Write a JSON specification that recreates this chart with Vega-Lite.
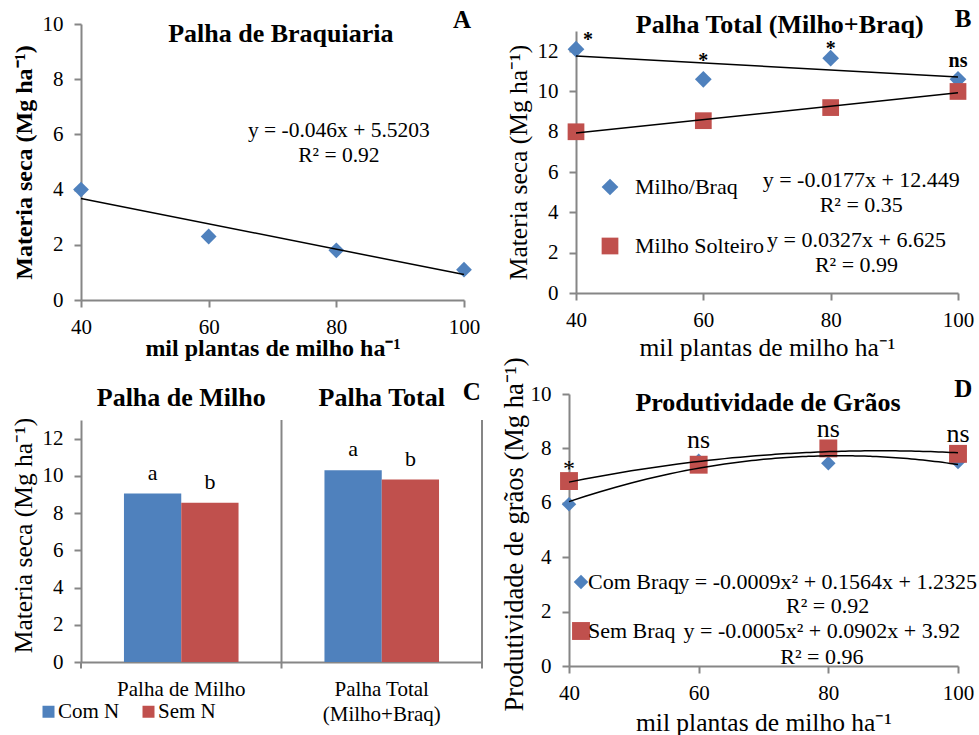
{
  "$schema": "https://vega.github.io/schema/vega-lite/v6.json",
  "padding": {"left": 10, "top": 7, "right": 0, "bottom": 0},
  "background": "white",
  "config": {
    "view": {"stroke": null},
    "font": "Liberation Serif",
    "axis": {
      "domainColor": "#868686", "tickColor": "#868686", "domainWidth": 2, "tickWidth": 2,
      "tickSize": 7, "grid": false, "labelFont": "Liberation Serif", "titleFont": "Liberation Serif",
      "labelFontSize": 21, "titleFontSize": 25.5, "labelColor": "#000", "titleColor": "#000",
      "titleFontWeight": "normal", "labelPadding": 9, "labelFlush": false, "labelOverlap": false
    },
    "axisY": {"labelPadding": 11, "titlePadding": 6},
    "axisX": {"titlePadding": -6},
    "legend": {"labelFont": "Liberation Serif", "labelColor": "#000", "padding": 0, "labelFontSize": 22},
    "text": {"font": "Liberation Serif", "color": "#000"}
  },
  "columns": 2,
  "align": "all",
  "bounds": "flush",
  "spacing": {"row": 94, "column": 87},
  "resolve": {
    "scale": {"x": "independent", "y": "independent", "color": "independent", "shape": "independent", "size": "independent", "xOffset": "independent"},
    "legend": {"color": "independent", "shape": "independent", "size": "independent"}
  },
  "concat": [
    {
      "width": 383, "height": 276,
      "data": {"values": [
        {"plantas": 40, "ms": 4.0}, {"plantas": 60, "ms": 2.3},
        {"plantas": 80, "ms": 1.8}, {"plantas": 100, "ms": 1.1}
      ]},
      "encoding": {
        "x": {"field": "plantas", "type": "quantitative", "scale": {"domain": [40, 100]},
              "axis": {"values": [40, 60, 80, 100], "title": "mil plantas de milho ha⁻¹", "titleFontWeight": "bold", "titleFontSize": 24, "titlePadding": -1}},
        "y": {"field": "ms", "type": "quantitative", "scale": {"domain": [0, 10]},
              "axis": {"values": [0, 2, 4, 6, 8, 10], "title": "Materia seca (Mg ha⁻¹)", "titleFontWeight": "bold", "titleFontSize": 24}}
      },
      "layer": [
        {"mark": {"type": "point", "shape": "diamond", "filled": true, "size": 250, "color": "#4F81BD", "opacity": 1}},
        {"transform": [{"regression": "ms", "on": "plantas", "extent": [40, 100]}],
         "mark": {"type": "line", "color": "#000", "strokeWidth": 1.5}},
        {"transform": [{"filter": "datum.plantas == 40"}],
         "mark": {"type": "text", "fontSize": 26, "fontWeight": "bold", "align": "center", "baseline": "alphabetic"},
         "encoding": {"x": {"datum": 71.3}, "y": {"datum": 9.35}, "text": {"value": "Palha de Braquiaria"}}},
        {"transform": [{"filter": "datum.plantas == 40"}],
         "mark": {"type": "text", "fontSize": 25, "fontWeight": "bold", "align": "center", "baseline": "alphabetic"},
         "encoding": {"x": {"datum": 99.7}, "y": {"datum": 9.86}, "text": {"value": "A"}}},
        {"transform": [{"filter": "datum.plantas == 40"}],
         "mark": {"type": "text", "fontSize": 21.5, "align": "center", "baseline": "alphabetic", "lineHeight": 25},
         "encoding": {"x": {"datum": 80.4}, "y": {"datum": 5.9}, "text": {"value": ["y = -0.046x + 5.5203", "R² = 0.92"]}}}
      ]
    },
    {
      "width": 389, "height": 269,
      "data": {"values": [
        {"plantas": 40, "ms": 12.1, "serie": "Milho/Braq"},
        {"plantas": 60, "ms": 10.6, "serie": "Milho/Braq"},
        {"plantas": 80, "ms": 11.65, "serie": "Milho/Braq"},
        {"plantas": 100, "ms": 10.6, "serie": "Milho/Braq"},
        {"plantas": 40, "ms": 8.0, "serie": "Milho Solteiro"},
        {"plantas": 60, "ms": 8.55, "serie": "Milho Solteiro"},
        {"plantas": 80, "ms": 9.2, "serie": "Milho Solteiro"},
        {"plantas": 100, "ms": 10.0, "serie": "Milho Solteiro"}
      ]},
      "encoding": {
        "x": {"field": "plantas", "type": "quantitative", "scale": {"domain": [40, 100], "range": [7, 389]},
              "axis": {"values": [40, 60, 80, 100], "title": "mil plantas de milho ha⁻¹", "titlePadding": 5}},
        "y": {"field": "ms", "type": "quantitative", "scale": {"domain": [0, 13], "range": [269, 7]},
              "axis": {"values": [0, 2, 4, 6, 8, 10, 12], "title": "Materia seca (Mg ha⁻¹)", "offset": -7}}
      },
      "layer": [
        {"mark": {"type": "point", "filled": true, "size": 280, "opacity": 1},
         "encoding": {
           "color": {"field": "serie", "type": "nominal",
                     "scale": {"domain": ["Milho/Braq", "Milho Solteiro"], "range": ["#4F81BD", "#C0504D"]},
                     "legend": {"title": null, "orient": "none", "legendX": 30, "legendY": 152, "direction": "vertical", "rowPadding": 37, "labelOffset": 14, "symbolSize": 280, "labelFontSize": 22, "symbolStrokeWidth": 0}},
           "shape": {"field": "serie", "type": "nominal",
                     "scale": {"domain": ["Milho/Braq", "Milho Solteiro"], "range": ["diamond", "square"]},
                     "legend": {"title": null, "orient": "none", "legendX": 30, "legendY": 152, "direction": "vertical", "rowPadding": 37, "labelOffset": 14, "symbolSize": 280, "labelFontSize": 22, "symbolStrokeWidth": 0}}
         }},
        {"transform": [{"regression": "ms", "on": "plantas", "groupby": ["serie"], "extent": [40, 100]}],
         "mark": {"type": "line", "color": "#000", "strokeWidth": 1.5},
         "encoding": {"detail": {"field": "serie", "type": "nominal"}}},
        {"transform": [{"filter": "datum.plantas == 40 && datum.serie == 'Milho/Braq'"}],
         "mark": {"type": "text", "fontSize": 26, "fontWeight": "bold", "align": "center", "baseline": "alphabetic"},
         "encoding": {"x": {"datum": 72.0}, "y": {"datum": 12.92}, "text": {"value": "Palha Total (Milho+Braq)"}}},
        {"transform": [{"filter": "datum.plantas == 40 && datum.serie == 'Milho/Braq'"}],
         "mark": {"type": "text", "fontSize": 25, "fontWeight": "bold", "align": "center", "baseline": "alphabetic"},
         "encoding": {"x": {"datum": 100.8}, "y": {"datum": 13.19}, "text": {"value": "B"}}},
        {"transform": [{"filter": "datum.plantas == 40 && datum.serie == 'Milho/Braq'"}],
         "mark": {"type": "text", "fontSize": 20, "fontWeight": "bold", "align": "center", "baseline": "alphabetic"},
         "encoding": {"x": {"datum": 41.9}, "y": {"datum": 12.25}, "text": {"value": "*"}}},
        {"transform": [{"filter": "datum.plantas == 40 && datum.serie == 'Milho/Braq'"}],
         "mark": {"type": "text", "fontSize": 20, "fontWeight": "bold", "align": "center", "baseline": "alphabetic"},
         "encoding": {"x": {"datum": 60}, "y": {"datum": 11.2}, "text": {"value": "*"}}},
        {"transform": [{"filter": "datum.plantas == 40 && datum.serie == 'Milho/Braq'"}],
         "mark": {"type": "text", "fontSize": 20, "fontWeight": "bold", "align": "center", "baseline": "alphabetic"},
         "encoding": {"x": {"datum": 80}, "y": {"datum": 11.8}, "text": {"value": "*"}}},
        {"transform": [{"filter": "datum.plantas == 40 && datum.serie == 'Milho/Braq'"}],
         "mark": {"type": "text", "fontSize": 20, "fontWeight": "bold", "align": "center", "baseline": "alphabetic"},
         "encoding": {"x": {"datum": 100}, "y": {"datum": 11.2}, "text": {"value": "ns"}}},
        {"transform": [{"filter": "datum.plantas == 40 && datum.serie == 'Milho/Braq'"}],
         "mark": {"type": "text", "fontSize": 22, "align": "center", "baseline": "alphabetic", "lineHeight": 25},
         "encoding": {"x": {"datum": 84.8}, "y": {"datum": 5.26}, "text": {"value": ["y = -0.0177x + 12.449", "R² = 0.35"]}}},
        {"transform": [{"filter": "datum.plantas == 40 && datum.serie == 'Milho/Braq'"}],
         "mark": {"type": "text", "fontSize": 22, "align": "center", "baseline": "alphabetic", "lineHeight": 25},
         "encoding": {"x": {"datum": 84.06}, "y": {"datum": 2.28}, "text": {"value": ["y = 0.0327x + 6.625", "R² = 0.99"]}}}
      ]
    },
    {
      "width": 401, "height": 268,
      "data": {"values": [
        {"grupo": "Palha de Milho", "n": "Com N", "ms": 9.05, "letra": "a"},
        {"grupo": "Palha de Milho", "n": "Sem N", "ms": 8.55, "letra": "b"},
        {"grupo": "Palha Total (Milho+Braq)", "n": "Com N", "ms": 10.3, "letra": "a"},
        {"grupo": "Palha Total (Milho+Braq)", "n": "Sem N", "ms": 9.8, "letra": "b"}
      ]},
      "encoding": {
        "x": {"field": "grupo", "type": "nominal", "sort": null, "scale": {"paddingInner": 0, "paddingOuter": 0},
              "axis": {"title": null, "labelAngle": 0, "ticks": false, "tickSize": 0, "labelPadding": 16, "labelLineHeight": 25,
                       "labelExpr": "datum.value == 'Palha Total (Milho+Braq)' ? ['Palha Total', '(Milho+Braq)'] : datum.label"}},
        "y": {"field": "ms", "type": "quantitative", "scale": {"domain": [0, 13], "range": [268, 26]},
              "axis": {"values": [0, 2, 4, 6, 8, 10, 12], "title": "Materia seca (Mg ha⁻¹)", "titleY": 141}}
      },
      "layer": [
        {"mark": {"type": "bar"},
         "encoding": {
           "xOffset": {"field": "n", "type": "nominal", "scale": {"paddingOuter": 0.75, "paddingInner": 0}},
           "color": {"field": "n", "type": "nominal", "scale": {"domain": ["Com N", "Sem N"], "range": ["#4F81BD", "#C0504D"]},
                     "legend": {"title": null, "orient": "none", "legendX": -43, "legendY": 307, "direction": "horizontal", "symbolType": "square", "symbolSize": 144, "labelFontSize": 21, "columnPadding": 18, "labelOffset": -1, "symbolStrokeWidth": 0}}
         }},
        {"mark": {"type": "text", "fontSize": 22, "align": "center", "baseline": "alphabetic", "dy": -14},
         "encoding": {
           "xOffset": {"field": "n", "type": "nominal", "scale": {"paddingOuter": 0.75, "paddingInner": 0}},
           "text": {"field": "letra", "type": "nominal"}
         }},
        {"transform": [{"filter": "datum.grupo == 'Palha de Milho' && datum.n == 'Com N'"}],
         "mark": {"type": "rule", "color": "#868686", "strokeWidth": 2},
         "encoding": {"x": {"datum": "Palha Total (Milho+Braq)", "bandPosition": 0}, "y": {"datum": -0.35}, "y2": {"datum": 13}}},
        {"transform": [{"filter": "datum.grupo == 'Palha de Milho' && datum.n == 'Com N'"}],
         "mark": {"type": "rule", "color": "#868686", "strokeWidth": 2},
         "encoding": {"x": {"datum": "Palha Total (Milho+Braq)", "bandPosition": 1}, "y": {"datum": -0.35}, "y2": {"datum": 13}}},
        {"transform": [{"filter": "datum.grupo == 'Palha de Milho' && datum.n == 'Com N'"}],
         "mark": {"type": "rule", "color": "#868686", "strokeWidth": 2},
         "encoding": {"x": {"datum": "Palha de Milho", "bandPosition": 0}, "y": {"datum": -0.35}, "y2": {"datum": 0}}},
        {"transform": [{"filter": "datum.grupo == 'Palha de Milho' && datum.n == 'Com N'"}],
         "mark": {"type": "text", "fontSize": 26, "fontWeight": "bold", "align": "center", "baseline": "alphabetic"},
         "encoding": {"x": {"datum": "Palha de Milho"}, "y": {"datum": 13.77}, "text": {"value": "Palha de Milho"}}},
        {"transform": [{"filter": "datum.grupo == 'Palha de Milho' && datum.n == 'Com N'"}],
         "mark": {"type": "text", "fontSize": 26, "fontWeight": "bold", "align": "center", "baseline": "alphabetic"},
         "encoding": {"x": {"datum": "Palha Total (Milho+Braq)"}, "y": {"datum": 13.77}, "text": {"value": "Palha Total"}}},
        {"transform": [{"filter": "datum.grupo == 'Palha de Milho' && datum.n == 'Com N'"}],
         "mark": {"type": "text", "fontSize": 25, "fontWeight": "bold", "align": "center", "baseline": "alphabetic", "dx": 90},
         "encoding": {"x": {"datum": "Palha Total (Milho+Braq)"}, "y": {"datum": 14.09}, "text": {"value": "C"}}}
      ]
    },
    {
      "width": 389, "height": 272,
      "data": {"values": [
        {"plantas": 40, "prod": 5.95, "serie": "Com Braq"},
        {"plantas": 60, "prod": 7.55, "serie": "Com Braq"},
        {"plantas": 80, "prod": 7.45, "serie": "Com Braq"},
        {"plantas": 100, "prod": 7.5, "serie": "Com Braq"},
        {"plantas": 40, "prod": 6.8, "serie": "Sem Braq"},
        {"plantas": 60, "prod": 7.4, "serie": "Sem Braq"},
        {"plantas": 80, "prod": 8.0, "serie": "Sem Braq"},
        {"plantas": 100, "prod": 7.8, "serie": "Sem Braq"}
      ]},
      "encoding": {
        "x": {"field": "plantas", "type": "quantitative", "scale": {"domain": [40, 100]},
              "axis": {"values": [40, 60, 80, 100], "title": "mil plantas de milho ha⁻¹", "titlePadding": 7}},
        "y": {"field": "prod", "type": "quantitative", "scale": {"domain": [0, 10]},
              "axis": {"values": [0, 2, 4, 6, 8, 10], "title": "Produtividade de grãos (Mg ha⁻¹)", "titleY": 140, "titleFontSize": 26.5, "titlePadding": 2}}
      },
      "layer": [
        {"mark": {"type": "point", "filled": true, "opacity": 1},
         "encoding": {
           "color": {"field": "serie", "type": "nominal",
                     "scale": {"domain": ["Com Braq", "Sem Braq"], "range": ["#4F81BD", "#C0504D"]},
                     "legend": {"title": null, "orient": "none", "legendX": 1, "legendY": 177, "direction": "vertical", "rowPadding": 27, "labelOffset": -4, "symbolSize": 250, "labelFontSize": 22, "symbolStrokeWidth": 0}},
           "shape": {"field": "serie", "type": "nominal",
                     "scale": {"domain": ["Com Braq", "Sem Braq"], "range": ["diamond", "square"]},
                     "legend": {"title": null, "orient": "none", "legendX": 1, "legendY": 177, "direction": "vertical", "rowPadding": 27, "labelOffset": -4, "symbolSize": 250, "labelFontSize": 22, "symbolStrokeWidth": 0}},
           "size": {"field": "serie", "type": "nominal", "scale": {"domain": ["Com Braq", "Sem Braq"], "range": [210, 320]}, "legend": null}
         }},
        {"transform": [{"regression": "prod", "on": "plantas", "groupby": ["serie"], "method": "poly", "order": 2, "extent": [40, 100]}],
         "mark": {"type": "line", "color": "#000", "strokeWidth": 1.5},
         "encoding": {"detail": {"field": "serie", "type": "nominal"}}},
        {"transform": [{"filter": "datum.plantas == 40 && datum.serie == 'Com Braq'"}],
         "mark": {"type": "text", "fontSize": 26, "fontWeight": "bold", "align": "center", "baseline": "alphabetic"},
         "encoding": {"x": {"datum": 70.7}, "y": {"datum": 9.375}, "text": {"value": "Produtividade de Grãos"}}},
        {"transform": [{"filter": "datum.plantas == 40 && datum.serie == 'Com Braq'"}],
         "mark": {"type": "text", "fontSize": 25, "fontWeight": "bold", "align": "center", "baseline": "alphabetic"},
         "encoding": {"x": {"datum": 100.8}, "y": {"datum": 9.89}, "text": {"value": "D"}}},
        {"transform": [{"filter": "datum.plantas == 40 && datum.serie == 'Com Braq'"}],
         "mark": {"type": "text", "fontSize": 24, "align": "center", "baseline": "alphabetic"},
         "encoding": {"x": {"datum": 40}, "y": {"datum": 7.0}, "text": {"value": "*"}}},
        {"transform": [{"filter": "datum.plantas == 40 && datum.serie == 'Com Braq'"}],
         "mark": {"type": "text", "fontSize": 26, "align": "center", "baseline": "alphabetic"},
         "encoding": {"x": {"datum": 60}, "y": {"datum": 8.0}, "text": {"value": "ns"}}},
        {"transform": [{"filter": "datum.plantas == 40 && datum.serie == 'Com Braq'"}],
         "mark": {"type": "text", "fontSize": 26, "align": "center", "baseline": "alphabetic"},
         "encoding": {"x": {"datum": 80}, "y": {"datum": 8.42}, "text": {"value": "ns"}}},
        {"transform": [{"filter": "datum.plantas == 40 && datum.serie == 'Com Braq'"}],
         "mark": {"type": "text", "fontSize": 26, "align": "center", "baseline": "alphabetic"},
         "encoding": {"x": {"datum": 100}, "y": {"datum": 8.24}, "text": {"value": "ns"}}},
        {"transform": [{"filter": "datum.plantas == 40 && datum.serie == 'Com Braq'"}],
         "mark": {"type": "text", "fontSize": 22, "align": "center", "baseline": "alphabetic", "lineHeight": 24},
         "encoding": {"x": {"datum": 79.9}, "y": {"datum": 2.83}, "text": {"value": ["y = -0.0009x² + 0.1564x + 1.2325", "R² = 0.92"]}}},
        {"transform": [{"filter": "datum.plantas == 40 && datum.serie == 'Com Braq'"}],
         "mark": {"type": "text", "fontSize": 22, "align": "center", "baseline": "alphabetic", "lineHeight": 26},
         "encoding": {"x": {"datum": 79.0}, "y": {"datum": 1.03}, "text": {"value": ["y = -0.0005x² + 0.0902x + 3.92", "R² = 0.96"]}}}
      ]
    }
  ]
}
